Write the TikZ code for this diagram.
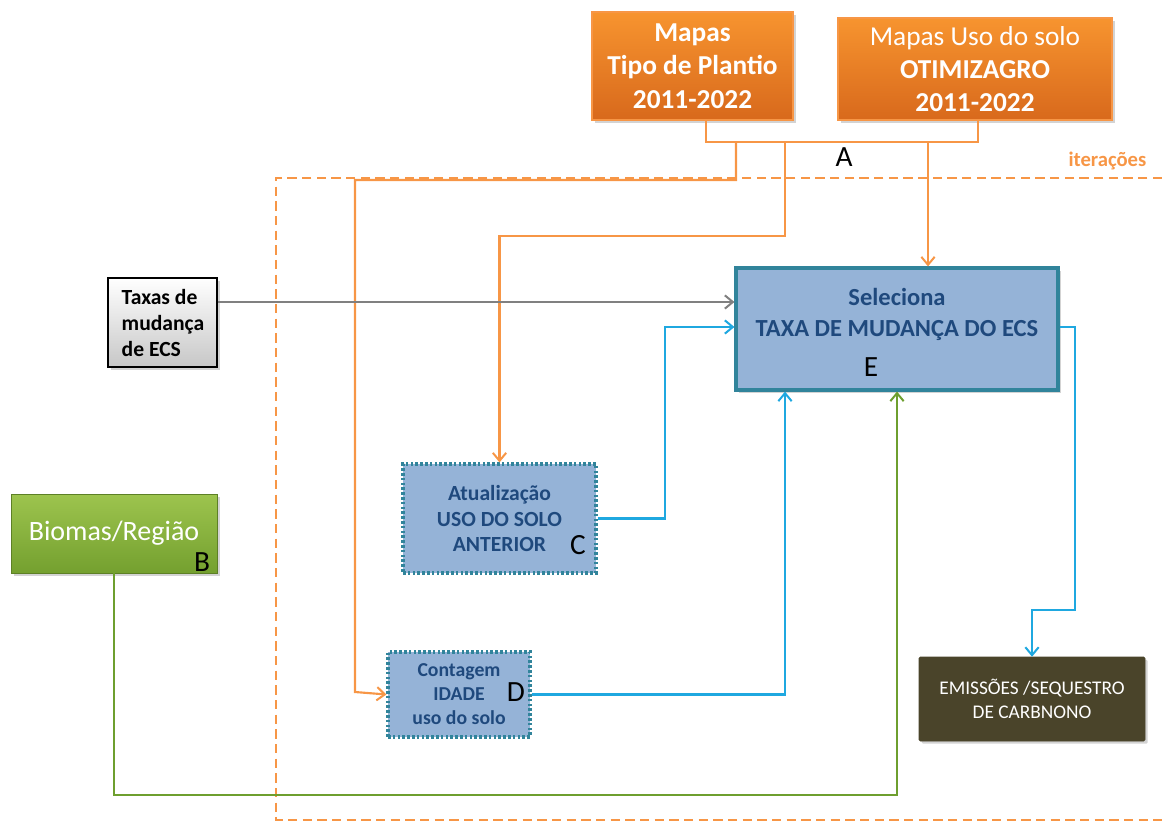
\documentclass[tikz,border=0pt]{standalone}
\usepackage{fontspec}
\setmainfont{Carlito}
\usetikzlibrary{arrows.meta,shadows,calc}
\definecolor{orT}{HTML}{F7942F}
\definecolor{orB}{HTML}{D8691C}
\definecolor{orL}{HTML}{F79646}
\definecolor{bluF}{HTML}{95B3D7}
\definecolor{bluD}{HTML}{31849B}
\definecolor{bluT}{HTML}{1F497D}
\definecolor{cyanL}{HTML}{1FA8E0}
\definecolor{grnL}{HTML}{6E9F2F}
\definecolor{grnT}{HTML}{9DC44E}
\definecolor{grnB}{HTML}{74A02F}
\definecolor{olive}{HTML}{4A442A}
\definecolor{grayL}{HTML}{808080}
\tikzset{
  shd/.style={drop shadow={shadow xshift=2pt,shadow yshift=-2pt,opacity=0.35}},
  orbox/.style={shd,draw=orL,line width=0.8pt,top color=orT,bottom color=orB,text=white,align=center,font=\fontsize{20.5}{25}\selectfont},
  bluebox/.style={fill=bluF,draw=bluD,text=bluT,align=center},
  dotbox/.style={bluebox,line width=2.4pt,dash pattern=on 2pt off 1.6pt},
  tip/.style={-{Straight Barb[length=6pt,width=10pt,line width=1.5pt]}},
  orline/.style={draw=orL,line width=1.6pt},
  cyline/.style={draw=cyanL,line width=1.6pt},
  grline/.style={draw=grnL,line width=1.6pt},
  letter/.style={text=black,font=\fontsize{22}{22}\selectfont,inner sep=0pt}
}
\begin{document}
\begin{tikzpicture}[x=0.75pt,y=-0.75pt]
\useasboundingbox (0,0) rectangle (1162,823);
% dashed iteration frame
\draw[orL,line width=2pt,dash pattern=on 7pt off 4pt] (1162,178) -- (276,178) -- (276,820) -- (1162,820);
\node[text=orL,font=\fontsize{15.5}{16}\selectfont\bfseries,anchor=east] (it) at (1151,161) {iterações};
% boxes
\node[orbox,minimum width=201*0.75pt,minimum height=108*0.75pt] (m1) at (692.5,66) {\bfseries Mapas\\\bfseries Tipo de Plantio\\\bfseries 2011-2022};
\node[orbox,minimum width=274*0.75pt,minimum height=102*0.75pt] (m2) at (975,69) {Mapas Uso do solo\\\bfseries OTIMIZAGRO\\\bfseries 2011-2022};
\node[shd,draw=black,line width=1pt,top color=white,bottom color=black!22,minimum width=109*0.75pt,minimum height=89*0.75pt] (tx) at (162.5,322.5) {};
\node[align=left,font=\fontsize{16.2}{19.5}\selectfont\bfseries] (txt) at (163,323) {Taxas de\\mudança\\de ECS};
\node[shd,bluebox,line width=2.4pt,minimum width=322*0.75pt,minimum height=122*0.75pt] (E) at (897,329) {};
\node[text=bluT,align=center,font=\fontsize{18.4}{23}\selectfont\bfseries] (Et) at (897,314.5) {Seleciona\\TAXA DE MUDANÇA DO ECS};
\node[letter] (El) at (871,367) {E};
\node[shd,draw=grnB!80!black,line width=0.6pt,top color=grnT,bottom color=grnB,minimum width=206*0.75pt,minimum height=79*0.75pt,text=white,font=\fontsize{21}{21}\selectfont] (Bi) at (114,533.5) {Biomas/Região};
\node[letter] (Bl) at (202,562) {B};
\node[dotbox,minimum width=193*0.75pt,minimum height=109*0.75pt,font=\fontsize{16.2}{19}\selectfont\bfseries] (C) at (499.5,518.5) {Atualização\\USO DO SOLO\\ANTERIOR};
\node[letter] (Cl) at (578,545) {C};
\node[dotbox,minimum width=142*0.75pt,minimum height=85*0.75pt,font=\fontsize{14.8}{18}\selectfont\bfseries] (D) at (459,694.5) {Contagem\\IDADE\\uso do solo};
\node[letter] (Dl) at (516,692) {D};
\node[shd,fill=olive,draw=olive,rounded corners=1pt,minimum width=226*0.75pt,minimum height=84*0.75pt,text=white,align=center,font=\fontsize{14.5}{18}\selectfont] (Em) at (1032,699) {EMISSÕES /SEQUESTRO\\DE CARBNONO};
\node[letter] (Al) at (844,157) {A};
% orange connectors
\coordinate (ja) at (736,142);
\coordinate (jb) at (785,142);
\coordinate (jc) at (928,142);
\draw[orline] (m1.south -| 706,0) |- (jc) -| (m2.south -| 978,0);
\draw[orline,tip] (ja) -- (736,180) -| (355,692) -- (D.west);
\draw[orline,tip] (jb) -- (785,236) -| (C.north);
\draw[orline,tip] (jc) -- (E.north -| jc);
% gray
\draw[grayL,line width=1.6pt,tip] (tx.east |- 0,302) -- (E.west |- 0,302);
% cyan
\draw[cyline,tip] (C.east) -| (665,400) |- (E.west |- 0,327);
\draw[cyline,tip] (D.east) -| (E.south -| 785,0);
\draw[cyline,tip] (E.east |- 0,327) -| (1075,610) -| (Em.north);
% green
\draw[grline,tip] (Bi.south) |- (897,795) -- (E.south -| 897,0);
\end{tikzpicture}
\end{document}
